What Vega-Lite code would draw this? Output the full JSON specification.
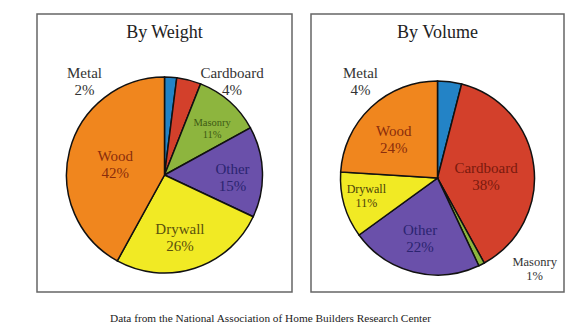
{
  "$schema": "https://vega.github.io/schema/vega-lite/v6.json",
  "background": "white",
  "padding": {"left": 36, "top": 13, "right": 10, "bottom": 0},
  "bounds": "flush",
  "datasets": {
    "weight": [
      {"category": "Metal", "value": 2, "rank": 1, "label": "Metal\n2%"},
      {"category": "Cardboard", "value": 4, "rank": 2, "label": "Cardboard\n4%"},
      {"category": "Masonry", "value": 11, "rank": 3, "label": "Masonry\n11%"},
      {"category": "Other", "value": 15, "rank": 4, "label": "Other\n15%"},
      {"category": "Drywall", "value": 26, "rank": 5, "label": "Drywall\n26%"},
      {"category": "Wood", "value": 42, "rank": 6, "label": "Wood\n42%"}
    ],
    "volume": [
      {"category": "Metal", "value": 4, "rank": 1, "label": "Metal\n4%"},
      {"category": "Cardboard", "value": 38, "rank": 2, "label": "Cardboard\n38%"},
      {"category": "Masonry", "value": 1, "rank": 3, "label": "Masonry\n1%"},
      {"category": "Other", "value": 22, "rank": 4, "label": "Other\n22%"},
      {"category": "Drywall", "value": 11, "rank": 5, "label": "Drywall\n11%"},
      {"category": "Wood", "value": 24, "rank": 6, "label": "Wood\n24%"}
    ]
  },
  "title": {
    "text": "Data from the National Association of Home Builders Research Center",
    "orient": "bottom",
    "anchor": "middle",
    "font": "Liberation Serif",
    "fontSize": 11.3,
    "fontWeight": "normal",
    "color": "#222",
    "offset": 20,
    "dx": -30
  },
  "spacing": 19,
  "hconcat": [
    {
      "width": 255,
      "height": 278,
      "view": {"stroke": "#666", "strokeWidth": 1.5, "fill": "white"},
      "data": {"name": "weight"},
      "title": {"text": "By Weight", "offset": -28, "font": "Liberation Serif", "fontSize": 18, "fontWeight": "normal", "color": "#222", "anchor": "middle"},
      "layer": [
        {
          "mark": {"type": "arc", "outerRadius": 98, "stroke": "#111", "strokeWidth": 1.5, "yOffset": 22},
          "encoding": {
            "theta": {"field": "value", "type": "quantitative", "stack": true, "scale": {"domain": [0, 100]}},
            "order": {"field": "rank", "type": "quantitative"},
            "color": {"field": "category", "type": "nominal", "legend": null,
              "scale": {"domain": ["Metal", "Cardboard", "Masonry", "Other", "Drywall", "Wood"],
                        "range": ["#2383c6", "#d3402b", "#8db53e", "#6a50aa", "#f1ea24", "#f0861e"]}}
          }
        },
        {
          "mark": {"type": "text", "radius": 66, "font": "Liberation Serif", "fontSize": 15, "color": "#2b2470", "lineBreak": "\n", "yOffset": 22, "dx": 2, "dy": -4},
          "encoding": {
            "theta": {"field": "value", "type": "quantitative", "stack": true, "scale": {"domain": [0, 100]}},
            "order": {"field": "rank", "type": "quantitative"},
            "detail": {"field": "category", "type": "nominal"},
            "text": {"condition": {"test": "datum.category === 'Other'", "field": "label"}, "value": ""}}
        },
        {
          "mark": {"type": "text", "radius": 66, "font": "Liberation Serif", "fontSize": 15, "color": "#5a500c", "lineBreak": "\n", "yOffset": 22, "dx": -5, "dy": -9},
          "encoding": {
            "theta": {"field": "value", "type": "quantitative", "stack": true, "scale": {"domain": [0, 100]}},
            "order": {"field": "rank", "type": "quantitative"},
            "detail": {"field": "category", "type": "nominal"},
            "text": {"condition": {"test": "datum.category === 'Drywall'", "field": "label"}, "value": ""}}
        },
        {
          "mark": {"type": "text", "radius": 53, "font": "Liberation Serif", "fontSize": 15, "color": "#8a2d0c", "lineBreak": "\n", "yOffset": 22, "dx": 2, "dy": -6},
          "encoding": {
            "theta": {"field": "value", "type": "quantitative", "stack": true, "scale": {"domain": [0, 100]}},
            "order": {"field": "rank", "type": "quantitative"},
            "detail": {"field": "category", "type": "nominal"},
            "text": {"condition": {"test": "datum.category === 'Wood'", "field": "label"}, "value": ""}}
        },
        {
          "mark": {"type": "text", "radius": 63, "font": "Liberation Serif", "fontSize": 10.5, "color": "#3d5a14", "lineBreak": "\n", "yOffset": 22, "dx": 6, "dy": -5},
          "encoding": {
            "theta": {"field": "value", "type": "quantitative", "stack": true, "scale": {"domain": [0, 100]}},
            "order": {"field": "rank", "type": "quantitative"},
            "detail": {"field": "category", "type": "nominal"},
            "text": {"condition": {"test": "datum.category === 'Masonry'", "field": "label"}, "value": ""}}
        },
        {
          "transform": [
            {"stack": "value", "groupby": [], "sort": [{"field": "rank"}], "as": ["v0", "v1"]},
            {"filter": "datum.category === 'Metal'"}
          ],
          "mark": {"type": "text", "radius": 100, "font": "Liberation Serif", "fontSize": 15, "color": "#333", "lineBreak": "\n", "yOffset": 22, "dx": -80, "dy": -2},
          "encoding": {
            "theta": {"field": "v0", "type": "quantitative", "scale": {"domain": [0, 100]}},
            "text": {"field": "label"}}
        },
        {
          "transform": [
            {"stack": "value", "groupby": [], "sort": [{"field": "rank"}], "as": ["v0", "v1"]},
            {"filter": "datum.category === 'Cardboard'"}
          ],
          "mark": {"type": "text", "radius": 100, "font": "Liberation Serif", "fontSize": 15, "color": "#333", "lineBreak": "\n", "yOffset": 22, "dx": 55, "dy": -3},
          "encoding": {
            "theta": {"field": "v0", "type": "quantitative", "scale": {"domain": [0, 100]}},
            "text": {"field": "label"}}
        }
      ]
    },
    {
      "width": 253,
      "height": 278,
      "view": {"stroke": "#666", "strokeWidth": 1.5, "fill": "white"},
      "data": {"name": "volume"},
      "title": {"text": "By Volume", "offset": -28, "font": "Liberation Serif", "fontSize": 18, "fontWeight": "normal", "color": "#222", "anchor": "middle"},
      "layer": [
        {
          "mark": {"type": "arc", "outerRadius": 97, "stroke": "#111", "strokeWidth": 1.5, "yOffset": 25},
          "encoding": {
            "theta": {"field": "value", "type": "quantitative", "stack": true, "scale": {"domain": [0, 100]}},
            "order": {"field": "rank", "type": "quantitative"},
            "color": {"field": "category", "type": "nominal", "legend": null,
              "scale": {"domain": ["Metal", "Cardboard", "Masonry", "Other", "Drywall", "Wood"],
                        "range": ["#2383c6", "#d3402b", "#8db53e", "#6a50aa", "#f1ea24", "#f0861e"]}}
          }
        },
        {
          "mark": {"type": "text", "radius": 52, "font": "Liberation Serif", "fontSize": 15, "color": "#7a1a0e", "lineBreak": "\n", "yOffset": 25, "dx": -3, "dy": -3},
          "encoding": {
            "theta": {"field": "value", "type": "quantitative", "stack": true, "scale": {"domain": [0, 100]}},
            "order": {"field": "rank", "type": "quantitative"},
            "detail": {"field": "category", "type": "nominal"},
            "text": {"condition": {"test": "datum.category === 'Cardboard'", "field": "label"}, "value": ""}}
        },
        {
          "mark": {"type": "text", "radius": 62, "font": "Liberation Serif", "fontSize": 15, "color": "#2b2470", "lineBreak": "\n", "yOffset": 25, "dx": -2, "dy": -8},
          "encoding": {
            "theta": {"field": "value", "type": "quantitative", "stack": true, "scale": {"domain": [0, 100]}},
            "order": {"field": "rank", "type": "quantitative"},
            "detail": {"field": "category", "type": "nominal"},
            "text": {"condition": {"test": "datum.category === 'Other'", "field": "label"}, "value": ""}}
        },
        {
          "mark": {"type": "text", "radius": 72, "font": "Liberation Serif", "fontSize": 12, "color": "#4a420a", "lineBreak": "\n", "yOffset": 25, "dx": -2, "dy": -9},
          "encoding": {
            "theta": {"field": "value", "type": "quantitative", "stack": true, "scale": {"domain": [0, 100]}},
            "order": {"field": "rank", "type": "quantitative"},
            "detail": {"field": "category", "type": "nominal"},
            "text": {"condition": {"test": "datum.category === 'Drywall'", "field": "label"}, "value": ""}}
        },
        {
          "mark": {"type": "text", "radius": 58, "font": "Liberation Serif", "fontSize": 15, "color": "#8a2d0c", "lineBreak": "\n", "yOffset": 25, "dx": -4, "dy": -5},
          "encoding": {
            "theta": {"field": "value", "type": "quantitative", "stack": true, "scale": {"domain": [0, 100]}},
            "order": {"field": "rank", "type": "quantitative"},
            "detail": {"field": "category", "type": "nominal"},
            "text": {"condition": {"test": "datum.category === 'Wood'", "field": "label"}, "value": ""}}
        },
        {
          "transform": [
            {"stack": "value", "groupby": [], "sort": [{"field": "rank"}], "as": ["v0", "v1"]},
            {"filter": "datum.category === 'Metal'"}
          ],
          "mark": {"type": "text", "radius": 100, "font": "Liberation Serif", "fontSize": 15, "color": "#333", "lineBreak": "\n", "yOffset": 25, "dx": -77, "dy": -5},
          "encoding": {
            "theta": {"field": "v0", "type": "quantitative", "scale": {"domain": [0, 100]}},
            "text": {"field": "label"}}
        },
        {
          "transform": [
            {"stack": "value", "groupby": [], "sort": [{"field": "rank"}], "as": ["v0", "v1"]},
            {"filter": "datum.category === 'Masonry'"}
          ],
          "mark": {"type": "text", "radius": 100, "font": "Liberation Serif", "fontSize": 12.5, "color": "#333", "lineBreak": "\n", "yOffset": 25, "dx": 49, "dy": -4},
          "encoding": {
            "theta": {"field": "v0", "type": "quantitative", "scale": {"domain": [0, 100]}},
            "text": {"field": "label"}}
        }
      ]
    }
  ]
}
